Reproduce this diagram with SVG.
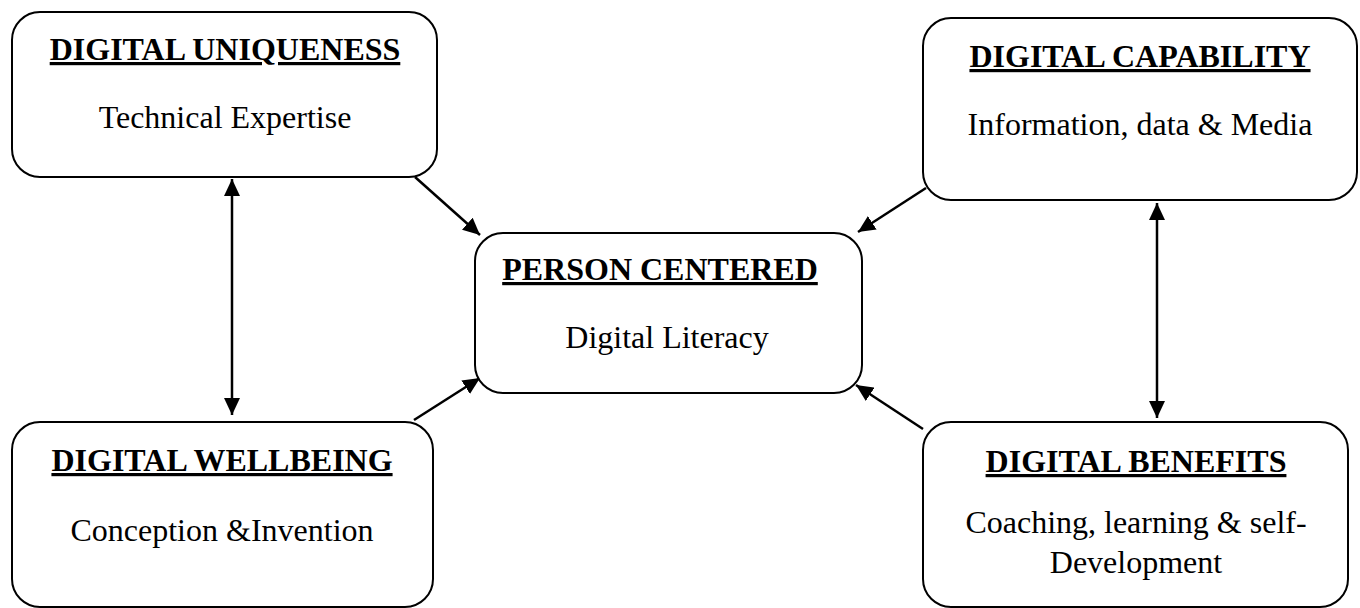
<svg xmlns="http://www.w3.org/2000/svg" width="1360" height="608" viewBox="0 0 1360 608">
  <style>
    .box { fill: #ffffff; stroke: #000000; stroke-width: 2; }
    .title { font-family: "Liberation Serif", "Times New Roman", serif; font-size: 32px; font-weight: bold; text-anchor: middle; text-decoration: underline; fill: #000000; }
    .sub { font-family: "Liberation Serif", "Times New Roman", serif; font-size: 32px; text-anchor: middle; fill: #000000; }
    .link { stroke: #000000; stroke-width: 2.5; fill: none; }
  </style>
  <defs>
    <marker id="arrow" markerUnits="userSpaceOnUse" markerWidth="17" markerHeight="16" refX="17" refY="8" orient="auto-start-reverse">
      <path d="M0,0 L17,8 L0,16 Z" fill="#000000"/>
    </marker>
  </defs>
  <rect width="1360" height="608" fill="#ffffff"/>

  <g id="connectors">
    <line class="link" x1="232" y1="179" x2="232" y2="415" marker-start="url(#arrow)" marker-end="url(#arrow)"/>
    <line class="link" x1="1157" y1="203" x2="1157" y2="418" marker-start="url(#arrow)" marker-end="url(#arrow)"/>
    <line class="link" x1="415" y1="177" x2="480" y2="235" marker-end="url(#arrow)"/>
    <line class="link" x1="926" y1="188" x2="858" y2="232" marker-end="url(#arrow)"/>
    <line class="link" x1="414" y1="420" x2="480" y2="378" marker-end="url(#arrow)"/>
    <line class="link" x1="923" y1="429" x2="856" y2="385" marker-end="url(#arrow)"/>
  </g>

  <g id="digital-uniqueness">
    <rect class="box" x="12" y="12" width="425" height="165" rx="28" ry="28"/>
    <text class="title" x="225" y="60">DIGITAL UNIQUENESS</text>
    <text class="sub" x="225" y="128">Technical Expertise</text>
  </g>

  <g id="digital-capability">
    <rect class="box" x="923" y="18" width="434" height="182" rx="28" ry="28"/>
    <text class="title" x="1140" y="67">DIGITAL CAPABILITY</text>
    <text class="sub" x="1140" y="135">Information, data &amp; Media</text>
  </g>

  <g id="person-centered">
    <rect class="box" x="475" y="233" width="387" height="160" rx="28" ry="28"/>
    <text class="title" x="660" y="280">PERSON CENTERED</text>
    <text class="sub" x="667" y="348">Digital Literacy</text>
  </g>

  <g id="digital-wellbeing">
    <rect class="box" x="12" y="422" width="421" height="185" rx="28" ry="28"/>
    <text class="title" x="222" y="471">DIGITAL WELLBEING</text>
    <text class="sub" x="222" y="541">Conception &amp;Invention</text>
  </g>

  <g id="digital-benefits">
    <rect class="box" x="923" y="422" width="425" height="185" rx="28" ry="28"/>
    <text class="title" x="1136" y="472">DIGITAL BENEFITS</text>
    <text class="sub" x="1136" y="533">Coaching, learning &amp; self-</text>
    <text class="sub" x="1136" y="573">Development</text>
  </g>
</svg>
